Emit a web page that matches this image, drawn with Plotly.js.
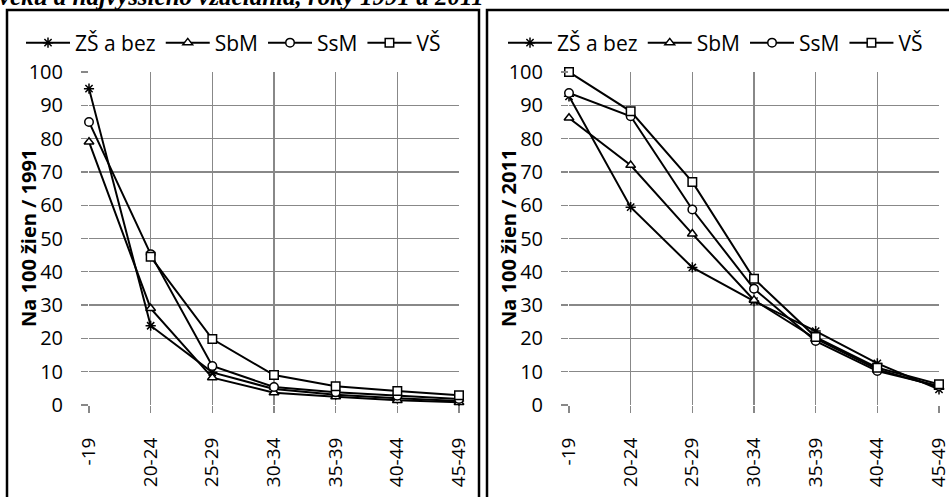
<!DOCTYPE html>
<html>
<head>
<meta charset="utf-8">
<script src="https://cdn.plot.ly/plotly-3.0.1.min.js"></script>
<style>html,body{margin:0;padding:0;background:#fff;}#chart{width:949px;height:497px;}</style>
</head>
<body>
<div id="chart"></div>
<script>
// ---- data ----
const ageGroups = ["-19", "20-24", "25-29", "30-34", "35-39", "40-44", "45-49"];
const seriesNames = ["ZŠ a bez", "SbM", "SsM", "VŠ"];
const y1991_ZS  = [95, 23.8, 9.8, 4.8, 3.1, 2.0, 1.2];
const y1991_SbM = [79, 29.0, 8.2, 3.7, 2.5, 1.4, 0.8];
const y1991_SsM = [85, 45.3, 11.7, 5.4, 3.8, 2.8, 1.8];
const y1991_VS  = [null, 44.5, 19.8, 9.0, 5.6, 4.2, 2.9];
const y2011_ZS  = [92.7, 59.4, 41.3, 31.2, 22.2, 12.5, 4.7];
const y2011_SbM = [86.2, 72.0, 51.4, 31.5, 19.9, 10.7, 5.4];
const y2011_SsM = [93.7, 86.7, 58.7, 34.9, 19.2, 10.2, 5.7];
const y2011_VS  = [100, 88.2, 67.0, 37.9, 20.4, 11.2, 6.2];
const yTitles = ["Na 100 žien / 1991", "Na 100 žien / 2011"];
const headerText = "veku a najvyššieho vzdelania, roky 1991 a 2011";

// ---- helpers (pixel -> paper) ----
const W = 949, H = 497;
const px = x => x / W;
const py = y => 1 - y / H;

const symbols = ["asterisk-open", "triangle-up", "circle", "square"];
const FONT = "Open Sans, Lato, sans-serif";

function makeTraces(vals, xa, ya, legendId) {
  return vals.map((v, i) => ({
    type: "scatter", mode: "lines+markers",
    x: ageGroups, y: v, name: seriesNames[i],
    xaxis: xa, yaxis: ya, legend: legendId,
    cliponaxis: false, connectgaps: false,
    line: {color: "#000", width: 2},
    marker: {symbol: symbols[i], size: 8.5, color: i === 0 ? "#000" : "#fff",
             line: {color: "#000", width: 1.5}}
  }));
}

const data = [
  ...makeTraces([y1991_ZS, y1991_SbM, y1991_SsM, y1991_VS], "x", "y", "legend"),
  ...makeTraces([y2011_ZS, y2011_SbM, y2011_SsM, y2011_VS], "x2", "y2", "legend2")
];

const gridColor = "#888888";
function xAxis(domain, anchor) {
  return {
    domain: domain, anchor: anchor, type: "category", range: [0, 6],
    showgrid: true, gridcolor: gridColor, gridwidth: 1.3,
    ticks: "outside", ticklen: 7, tickcolor: gridColor, tickwidth: 1.3,
    tickangle: -90, ticklabelstandoff: 17,
    tickfont: {family: FONT, size: 19, color: "#000"},
    showline: false, zeroline: false, fixedrange: true
  };
}
function yAxis(domain, anchor) {
  return {
    domain: domain, anchor: anchor, range: [0, 100], dtick: 10,
    showgrid: true, gridcolor: gridColor, gridwidth: 1.3,
    ticks: "outside", ticklen: 7, tickcolor: gridColor, tickwidth: 1.3,
    ticklabelstandoff: 14,
    tickfont: {family: FONT, size: 20, color: "#000"},
    showline: false, zeroline: false, fixedrange: true
  };
}

const yDom = [py(405), py(72)];
const legendCommon = {
  orientation: "h", yanchor: "middle", xanchor: "left",
  font: {family: FONT, size: 21, color: "#000"},
  bgcolor: "rgba(0,0,0,0)", traceorder: "normal", itemclick: false,
  itemwidth: 44
};

const layout = {
  width: W, height: H,
  margin: {l: 0, r: 0, t: 0, b: 0},
  paper_bgcolor: "#fff", plot_bgcolor: "#fff",
  showlegend: true,
  xaxis: xAxis([px(89), px(459)], "y"),
  yaxis: yAxis(yDom, "x"),
  xaxis2: xAxis([px(569), px(939)], "y2"),
  yaxis2: yAxis(yDom, "x2"),
  legend: Object.assign({x: px(21), y: py(43)}, legendCommon),
  legend2: Object.assign({x: px(503), y: py(43)}, legendCommon),
  shapes: [
    {type: "rect", xref: "paper", yref: "paper", x0: px(7), x1: px(479), y0: py(520), y1: py(10),
     line: {color: "#000", width: 2.5}, fillcolor: "rgba(0,0,0,0)", layer: "above"},
    {type: "rect", xref: "paper", yref: "paper", x0: px(487), x1: px(975), y0: py(520), y1: py(10),
     line: {color: "#000", width: 2.5}, fillcolor: "rgba(0,0,0,0)", layer: "above"}
  ],
  annotations: [
    {text: "<b><i>" + headerText + "</i></b>", xref: "paper", yref: "paper",
     x: px(-3), y: py(12), xanchor: "left", yanchor: "bottom", showarrow: false,
     font: {family: "Liberation Serif, Times New Roman, serif", size: 25, color: "#000"}},
    {text: "<b>" + yTitles[0] + "</b>", xref: "paper", yref: "paper",
     x: px(28), y: py(238), xanchor: "center", yanchor: "middle", textangle: -90, showarrow: false,
     font: {family: FONT, size: 20, color: "#000"}},
    {text: "<b>" + yTitles[1] + "</b>", xref: "paper", yref: "paper",
     x: px(508), y: py(238), xanchor: "center", yanchor: "middle", textangle: -90, showarrow: false,
     font: {family: FONT, size: 20, color: "#000"}}
  ]
};

Plotly.newPlot("chart", data, layout, {staticPlot: true, displayModeBar: false});
</script>
</body>
</html>
